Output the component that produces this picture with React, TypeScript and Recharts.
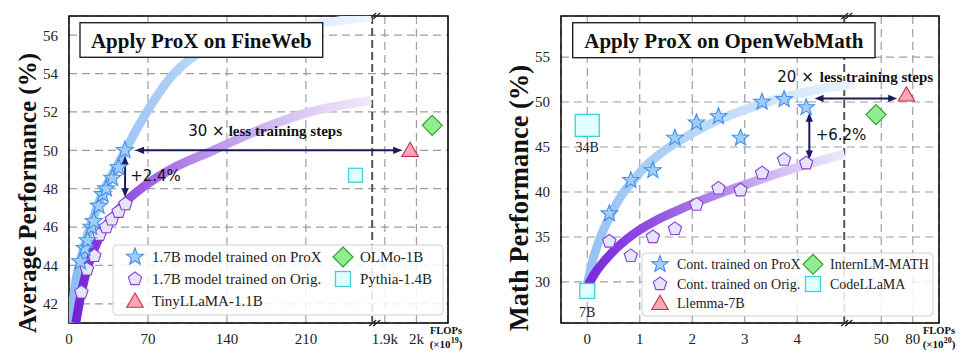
import React from 'react';
import {
  ComposedChart,
  XAxis,
  YAxis,
  CartesianGrid,
  Line,
  Scatter,
  ReferenceLine,
  ReferenceDot,
  ReferenceArea,
} from 'recharts';

const SERIF = '"Liberation Serif", "Times New Roman", serif';
const SANS = '"DejaVu Sans", sans-serif';
const NAVY = '#1b1b5e';

// ===== Left panel: Apply ProX on FineWeb (x: FLOPs ×10^19, y: Average Performance %) =====
const fwProxFlops = [10, 14, 16.5, 20, 22, 26.5, 30, 33, 38.5, 44, 49.5];
const fwProxPerf = [44.2, 44.9, 45.3, 46.0, 46.3, 47.1, 47.7, 48.0, 48.55, 49.1, 50.0];
const fwOrigFlops = [11, 16, 22.5, 27, 33, 38, 44, 50];
const fwOrigPerf = [42.6, 43.8, 44.5, 45.6, 46.0, 46.4, 46.8, 47.2];
const fwProxTrendFlops = [2, 5, 10, 15, 20, 30, 40, 51, 60, 70, 80, 90, 100, 116, 140, 175, 220, 268];
const fwProxTrendPerf = [41, 42.8, 44.2, 45.3, 46.2, 47.8, 48.9, 50.1, 51.1, 52.1, 53.0, 53.8, 54.4, 55.1, 55.7, 56.2, 56.6, 56.95];
const fwOrigTrendFlops = [6, 11, 16, 22, 30, 40, 50, 66, 90, 128, 170, 214, 268];
const fwOrigTrendPerf = [41, 42.6, 43.8, 44.8, 45.8, 46.6, 47.3, 48.1, 49, 50, 51.1, 52, 52.6];
const fwBaseNames = ['TinyLLaMA-1.1B', 'OLMo-1B', 'Pythia-1.4B'];
const fwBaseFlops = [1980, 2050, 254];
const fwBasePerf = [50.0, 51.3, 48.7];
const fwXTicks = [0, 70, 140, 210, 1900, 2000];
const fwXTickLabels = ['0', '70', '140', '210', '1.9k', '2k'];
const fwYTicks = [42, 44, 46, 48, 50, 52, 54, 56];

// ===== Right panel: Apply ProX on OpenWebMath (x: FLOPs ×10^20, y: Math Performance %) =====
const owmFlops = [0.42, 0.83, 1.25, 1.67, 2.08, 2.5, 2.92, 3.33, 3.75, 4.17];
const owmProxPerf = [37.6, 41.3, 42.4, 46.0, 47.7, 48.4, 46.0, 50.0, 50.3, 49.4];
const owmOrigPerf = [34.5, 32.9, 35.0, 35.9, 38.6, 40.4, 40.2, 42.1, 43.6, 43.2];
const owmProxTrendFlops = [0, 0.1, 0.24, 0.43, 0.65, 0.85, 1.1, 1.4, 1.96, 2.58, 3.23, 3.86, 4.5, 25];
const owmProxTrendPerf = [29.7, 32.3, 34.8, 37.3, 39.6, 41.1, 42.8, 44.3, 46.4, 48.2, 49.6, 50.7, 51.5, 51.95];
const owmOrigTrendFlops = [0.02, 0.15, 0.35, 0.6, 0.9, 1.3, 1.7, 2.1, 2.6, 3.1, 3.6, 4.1, 4.9];
const owmOrigTrendPerf = [29.7, 31.0, 32.5, 34.0, 35.4, 36.8, 37.9, 38.9, 40.0, 41.0, 42.0, 42.9, 44.2];
const owmBaseNames = ['Llemma-7B', 'InternLM-MATH'];
const owmBaseFlops = [74, 45];
const owmBasePerf = [50.8, 48.6];
const codeLlamaSizes = ['7B', '34B'];
const codeLlamaFlops = [0, 0];
const codeLlamaPerf = [29.0, 47.4];
const owmXTicks = [0, 1, 2, 3, 4, 50, 80];
const owmXTickLabels = ['0', '1', '2', '3', '4', '50', '80'];
const owmYTicks = [30, 35, 40, 45, 50, 55];

// ===== broken-axis transforms =====
const fwBreak = 268.8;
const fwX = (v: number) => (v < 1000 ? v : 280 + (v - 1900) * 0.28);
const owmBreak = 4.895;
const owmX = (v: number) => (v < 10 ? v : 5.6 + (v - 50) * 0.02);

const pts = (xs: number[], ys: number[], f: (v: number) => number, labels?: string[]) =>
  xs.map((x, i) => ({ x: f(x), y: ys[i], label: labels ? labels[i] : '' }));

const fmtFrom = (ticks: number[], labels: string[], f: (v: number) => number) => (v: number) => {
  const i = ticks.findIndex((t) => Math.abs(f(t) - v) < 1e-6);
  return i >= 0 ? labels[i] : '';
};

// ===== marker shapes =====
const MARK: Record<string, { fill: string; stroke: string }> = {
  star: { fill: '#a3cdf8', stroke: '#3f8fe8' },
  pentagon: { fill: '#e5e5f7', stroke: '#8a3ed8' },
  triangle: { fill: '#f7a9b3', stroke: '#c92a4b' },
  diamond: { fill: '#90ee90', stroke: '#2e9a2e' },
  square: { fill: '#e0fffe', stroke: '#3fd2d2' },
};

function poly(cx: number, cy: number, n: number, R: number, r?: number) {
  const out: string[] = [];
  const m = r ? n * 2 : n;
  for (let i = 0; i < m; i++) {
    const a = (-90 + (i * 360) / m) * (Math.PI / 180);
    const rad = r && i % 2 === 1 ? r : R;
    out.push(`${cx + rad * Math.cos(a)},${cy + rad * Math.sin(a)}`);
  }
  return out.join(' ');
}

function Marker({ kind, cx, cy, R, w, h }: { kind: string; cx: number; cy: number; R?: number; w?: number; h?: number }) {
  const s = MARK[kind];
  const common = { fill: s.fill, stroke: s.stroke, strokeWidth: 1.1 };
  if (kind === 'star') return <polygon points={poly(cx, cy, 5, R || 9, (R || 9) * 0.42)} {...common} />;
  if (kind === 'pentagon') return <polygon points={poly(cx, cy, 5, R || 7)} {...common} />;
  if (kind === 'triangle') return <polygon points={poly(cx, cy + 1.5, 3, R || 9.5)} {...common} />;
  if (kind === 'diamond') {
    const r = R || 10;
    return <polygon points={`${cx},${cy - r} ${cx + r},${cy} ${cx},${cy + r} ${cx - r},${cy}`} {...common} />;
  }
  const ww = w || 14;
  const hh = h || 14;
  return <rect x={cx - ww / 2} y={cy - hh / 2} width={ww} height={hh} {...common} strokeWidth={1.3} />;
}

const shapeOf = (kind: string, R?: number) => (p: any) => <Marker kind={kind} cx={p.cx} cy={p.cy} R={R} />;

const codeShape = (p: any) => {
  const big = p.payload && p.payload.label === '34B';
  return (
    <g>
      <Marker kind="square" cx={p.cx} cy={p.cy} w={big ? 24 : 15} h={big ? 22 : 15} />
      <text x={p.cx} y={p.cy + 22} textAnchor="middle" dominantBaseline="central" fontFamily={SERIF} fontSize={14} fill="#222">
        {p.payload ? p.payload.label : ''}
      </text>
    </g>
  );
};

const arrowShape = (p: any) => {
  const { x1, y1, x2, y2 } = p;
  const dx = x2 - x1;
  const dy = y2 - y1;
  const len = Math.hypot(dx, dy) || 1;
  const ux = dx / len;
  const uy = dy / len;
  const L = 9;
  const W = 3.6;
  const head = (tx: number, ty: number, ax: number, ay: number) => {
    const bx = tx - ax * L;
    const by = ty - ay * L;
    return `${tx},${ty} ${bx - ay * W},${by + ax * W} ${bx + ay * W},${by - ax * W}`;
  };
  return (
    <g>
      <line x1={x1 + ux * 5} y1={y1 + uy * 5} x2={x2 - ux * 5} y2={y2 - uy * 5} stroke={NAVY} strokeWidth={2} />
      <polygon points={head(x2, y2, ux, uy)} fill={NAVY} />
      <polygon points={head(x1, y1, -ux, -uy)} fill={NAVY} />
    </g>
  );
};

const breakShape = (p: any) => {
  const x = p.x1;
  const top = Math.min(p.y1, p.y2);
  const bot = Math.max(p.y1, p.y2);
  const slash = (cy: number) =>
    [0.5, 4.5].map((d) => (
      <line key={d} x1={x + d - 3.5} y1={cy + 3} x2={x + d + 3.5} y2={cy - 3} stroke="#222" strokeWidth={1.3} />
    ));
  return (
    <g>
      <line x1={x} y1={top} x2={x} y2={bot} stroke="#555" strokeWidth={2} strokeDasharray="8 4" />
      {slash(top)}
      {slash(bot)}
    </g>
  );
};

const textShape = (lead: string, rest: string, gap: number) => (p: any) => (
  <text x={p.cx} y={p.cy} dominantBaseline="central" fill="#111">
    <tspan fontFamily={SANS} fontSize={15}>{lead}</tspan>
    {rest ? (
      <tspan dx={gap} fontFamily={SERIF} fontWeight="bold" fontSize={15}>
        {rest}
      </tspan>
    ) : null}
  </text>
);

const tickStyle = { fontFamily: SERIF, fontSize: 15, fill: '#222' };

function FineWebChart() {
  const fmt = fmtFrom(fwXTicks, fwXTickLabels, fwX);
  return (
    <ComposedChart width={490} height={359} margin={{ top: 16, right: 42, bottom: 0, left: 0 }}>
      <defs>
        <linearGradient id="fwBlue" x1="0" y1="0" x2="1" y2="0">
          <stop offset="0" stopColor="#8fbdf3" />
          <stop offset="0.3" stopColor="#aacdf6" />
          <stop offset="0.65" stopColor="#d3e6fa" />
          <stop offset="1" stopColor="#eef5fd" />
        </linearGradient>
        <linearGradient id="fwPurple" x1="0" y1="0" x2="1" y2="0">
          <stop offset="0" stopColor="#7322d8" />
          <stop offset="0.12" stopColor="#8c42df" />
          <stop offset="0.4" stopColor="#b58aea" />
          <stop offset="0.75" stopColor="#dac9f4" />
          <stop offset="1" stopColor="#f1eafb" />
        </linearGradient>
      </defs>
      <CartesianGrid stroke="#9e9e9e" strokeDasharray="8 5" strokeWidth={1.2} />
      <XAxis
        type="number"
        dataKey="x"
        domain={[0, 336]}
        allowDataOverflow
        ticks={fwXTicks.map(fwX)}
        interval={0}
        tickFormatter={fmt}
        axisLine={false}
        tickLine={false}
        tickSize={6}
        tickMargin={4}
        tick={tickStyle}
        height={36}
      />
      <YAxis
        type="number"
        dataKey="y"
        domain={[41, 57]}
        allowDataOverflow
        ticks={fwYTicks}
        interval={0}
        axisLine={false}
        tickLine={false}
        tickSize={6}
        tickMargin={5}
        tick={tickStyle}
        width={69}
      />
      <ReferenceLine x={fwBreak} shape={breakShape} ifOverflow="visible" />
      <Line
        data={pts(fwProxTrendFlops, fwProxTrendPerf, fwX)}
        dataKey="y"
        type="monotone"
        stroke="url(#fwBlue)"
        strokeWidth={9}
        dot={false}
        activeDot={false}
        isAnimationActive={false}
      />
      <Line
        data={pts(fwOrigTrendFlops, fwOrigTrendPerf, fwX)}
        dataKey="y"
        type="monotone"
        stroke="url(#fwPurple)"
        strokeWidth={9}
        dot={false}
        activeDot={false}
        isAnimationActive={false}
      />
      <Scatter data={pts(fwOrigFlops, fwOrigPerf, fwX)} dataKey="y" shape={shapeOf('pentagon', 7)} isAnimationActive={false} />
      <Scatter data={pts(fwProxFlops, fwProxPerf, fwX)} dataKey="y" shape={shapeOf('star', 9)} isAnimationActive={false} />
      <Scatter data={pts([fwBaseFlops[0]], [fwBasePerf[0]], fwX)} dataKey="y" shape={shapeOf('triangle', 9.5)} isAnimationActive={false} />
      <Scatter data={pts([fwBaseFlops[1]], [fwBasePerf[1]], fwX)} dataKey="y" shape={shapeOf('diamond', 10)} isAnimationActive={false} />
      <Scatter data={pts([fwBaseFlops[2]], [fwBasePerf[2]], fwX)} dataKey="y" shape={shapeOf('square')} isAnimationActive={false} />
      <ReferenceLine segment={[{ x: fwX(58.6), y: 50 }, { x: fwX(1955), y: 50 }]} shape={arrowShape} ifOverflow="visible" />
      <ReferenceLine segment={[{ x: 49.7, y: 49.72 }, { x: 49.7, y: 47.55 }]} shape={arrowShape} ifOverflow="visible" />
      <ReferenceDot x={105.7} y={51.03} r={0} shape={textShape('30 ×', 'less training steps', 4)} ifOverflow="visible" />
      <ReferenceDot x={54.2} y={48.68} r={0} shape={textShape('+2.4%', '', 0)} ifOverflow="visible" />
      <ReferenceArea x1={0} x2={336} y1={41} y2={57} fill="none" stroke="#000" strokeWidth={1.5} ifOverflow="visible" />
    </ComposedChart>
  );
}

function MathChart() {
  const fmt = fmtFrom(owmXTicks, owmXTickLabels, owmX);
  return (
    <ComposedChart width={490} height={359} margin={{ top: 16, right: 41, bottom: 0, left: 0 }}>
      <defs>
        <linearGradient id="owmBlue" x1="0" y1="0" x2="1" y2="0">
          <stop offset="0" stopColor="#96c2f4" />
          <stop offset="0.35" stopColor="#b3d3f7" />
          <stop offset="0.75" stopColor="#d5e7fa" />
          <stop offset="1" stopColor="#eaf3fd" />
        </linearGradient>
        <linearGradient id="owmPurple" x1="0" y1="0" x2="1" y2="0">
          <stop offset="0" stopColor="#7a28dc" />
          <stop offset="0.25" stopColor="#9250e2" />
          <stop offset="0.5" stopColor="#b387ea" />
          <stop offset="0.75" stopColor="#d4bff3" />
          <stop offset="1" stopColor="#efe7fa" />
        </linearGradient>
      </defs>
      <CartesianGrid stroke="#9e9e9e" strokeDasharray="8 5" strokeWidth={1.2} />
      <XAxis
        type="number"
        dataKey="x"
        domain={[-0.5, 6.7]}
        allowDataOverflow
        ticks={owmXTicks.map(owmX)}
        interval={0}
        tickFormatter={fmt}
        axisLine={false}
        tickLine={false}
        tickSize={6}
        tickMargin={4}
        tick={tickStyle}
        height={36}
      />
      <YAxis
        type="number"
        dataKey="y"
        domain={[25.44, 59.56]}
        allowDataOverflow
        ticks={owmYTicks}
        interval={0}
        axisLine={false}
        tickLine={false}
        tickSize={6}
        tickMargin={5}
        tick={tickStyle}
        width={71}
      />
      <ReferenceLine x={owmBreak} shape={breakShape} ifOverflow="visible" />
      <Line
        data={pts(owmProxTrendFlops, owmProxTrendPerf, owmX)}
        dataKey="y"
        type="monotone"
        stroke="url(#owmBlue)"
        strokeWidth={9}
        dot={false}
        activeDot={false}
        isAnimationActive={false}
      />
      <Line
        data={pts(owmOrigTrendFlops, owmOrigTrendPerf, owmX)}
        dataKey="y"
        type="monotone"
        stroke="url(#owmPurple)"
        strokeWidth={9}
        dot={false}
        activeDot={false}
        isAnimationActive={false}
      />
      <Scatter data={pts(owmFlops, owmOrigPerf, owmX)} dataKey="y" shape={shapeOf('pentagon', 7)} isAnimationActive={false} />
      <Scatter data={pts(owmFlops, owmProxPerf, owmX)} dataKey="y" shape={shapeOf('star', 8.7)} isAnimationActive={false} />
      <Scatter data={pts([owmBaseFlops[0]], [owmBasePerf[0]], owmX)} dataKey="y" shape={shapeOf('triangle', 9.5)} isAnimationActive={false} />
      <Scatter data={pts([owmBaseFlops[1]], [owmBasePerf[1]], owmX)} dataKey="y" shape={shapeOf('diamond', 10)} isAnimationActive={false} />
      <Scatter data={pts(codeLlamaFlops, codeLlamaPerf, owmX, codeLlamaSizes)} dataKey="y" shape={codeShape} isAnimationActive={false} />
      <ReferenceLine segment={[{ x: 4.33, y: 50.4 }, { x: owmX(65.2), y: 50.4 }]} shape={arrowShape} ifOverflow="visible" />
      <ReferenceLine segment={[{ x: 4.23, y: 48.8 }, { x: 4.23, y: 43.6 }]} shape={arrowShape} ifOverflow="visible" />
      <ReferenceDot x={3.62} y={52.74} r={0} shape={textShape('20 ×', 'less training steps', 6)} ifOverflow="visible" />
      <ReferenceDot x={4.35} y={46.38} r={0} shape={textShape('+6.2%', '', 0)} ifOverflow="visible" />
      <ReferenceArea x1={-0.5} x2={6.7} y1={25.44} y2={59.56} fill="none" stroke="#000" strokeWidth={1.5} ifOverflow="visible" />
    </ComposedChart>
  );
}

function LegendRow({ x, y, kind, label, fs, R, w }: any) {
  return (
    <g>
      <Marker kind={kind} cx={x} cy={y} R={R} w={w} h={w} />
      <text x={x + 17} y={y} dominantBaseline="central" fontFamily={SERIF} fontSize={fs} fill="#222">
        {label}
      </text>
    </g>
  );
}

function Overlay() {
  return (
    <svg width={980} height={359} style={{ position: 'absolute', left: 0, top: 0, pointerEvents: 'none' }}>
      {/* titles */}
      <rect x={80} y={22.7} width={242.7} height={34.6} fill="#fff" stroke="#222" strokeWidth={1.4} />
      <text x={201.3} y={40.5} textAnchor="middle" dominantBaseline="central" fontFamily={SERIF} fontWeight="bold" fontSize={21} fill="#111">
        Apply ProX on FineWeb
      </text>
      <rect x={572.7} y={22.7} width={302.3} height={35} fill="#fff" stroke="#222" strokeWidth={1.4} />
      <text x={723.8} y={40.5} textAnchor="middle" dominantBaseline="central" fontFamily={SERIF} fontWeight="bold" fontSize={21} fill="#111">
        Apply ProX on OpenWebMath
      </text>

      {/* y-axis titles */}
      <text transform="translate(27,193) rotate(-90)" textAnchor="middle" dominantBaseline="central" fontFamily={SERIF} fontWeight="bold" fontSize={25} fill="#111">
        Average Performance (%)
      </text>
      <text transform="translate(519,198) rotate(-90)" textAnchor="middle" dominantBaseline="central" fontFamily={SERIF} fontWeight="bold" fontSize={26.5} fill="#111">
        Math Performance (%)
      </text>

      {/* x-axis unit labels */}
      <text x={446} y={330} textAnchor="middle" dominantBaseline="central" fontFamily={SERIF} fontWeight="bold" fontSize={10.5} fill="#111">
        FLOPs
      </text>
      <text x={446} y={344} textAnchor="middle" dominantBaseline="central" fontFamily={SERIF} fontWeight="bold" fontSize={11} fill="#111">
        (×10<tspan fontSize={8} dy={-4}>19</tspan>
        <tspan dy={4}>)</tspan>
      </text>
      <text x={939} y={330} textAnchor="middle" dominantBaseline="central" fontFamily={SERIF} fontWeight="bold" fontSize={10.5} fill="#111">
        FLOPs
      </text>
      <text x={939} y={344} textAnchor="middle" dominantBaseline="central" fontFamily={SERIF} fontWeight="bold" fontSize={11} fill="#111">
        (×10<tspan fontSize={8} dy={-4}>20</tspan>
        <tspan dy={4}>)</tspan>
      </text>

      {/* left legend */}
      <rect x={113} y={245} width={330} height={70} rx={4} fill="#fff" fillOpacity={0.85} stroke="#d0d0d0" strokeWidth={1} />
      <LegendRow x={135} y={257} kind="star" R={9} label="1.7B model trained on ProX" fs={15} />
      <LegendRow x={135} y={279} kind="pentagon" R={7} label="1.7B model trained on Orig." fs={15} />
      <LegendRow x={135} y={301} kind="triangle" R={9.5} label="TinyLLaMA-1.1B" fs={15} />
      <LegendRow x={343} y={257} kind="diamond" R={10} label="OLMo-1B" fs={15} />
      <LegendRow x={343} y={279} kind="square" w={15} label="Pythia-1.4B" fs={15} />

      {/* right legend */}
      <rect x={642} y={253} width={291} height={63} rx={4} fill="#fff" fillOpacity={0.85} stroke="#d0d0d0" strokeWidth={1} />
      <LegendRow x={660} y={264.3} kind="star" R={8.7} label="Cont. trained on ProX" fs={14} />
      <LegendRow x={660} y={284} kind="pentagon" R={7} label="Cont. trained on Orig." fs={14} />
      <LegendRow x={660} y={303.3} kind="triangle" R={9.5} label="Llemma-7B" fs={14} />
      <LegendRow x={813} y={264.3} kind="diamond" R={10} label="InternLM-MATH" fs={14} />
      <LegendRow x={813} y={284} kind="square" w={15} label="CodeLLaMA" fs={14} />
    </svg>
  );
}

export default function App() {
  return (
    <div style={{ position: 'absolute', left: 0, top: 0, width: 980, height: 359, background: '#fff', overflow: 'hidden' }}>
      <div style={{ position: 'absolute', left: 0, top: 0 }}>
        <FineWebChart />
      </div>
      <div style={{ position: 'absolute', left: 490, top: 0 }}>
        <MathChart />
      </div>
      <Overlay />
    </div>
  );
}
